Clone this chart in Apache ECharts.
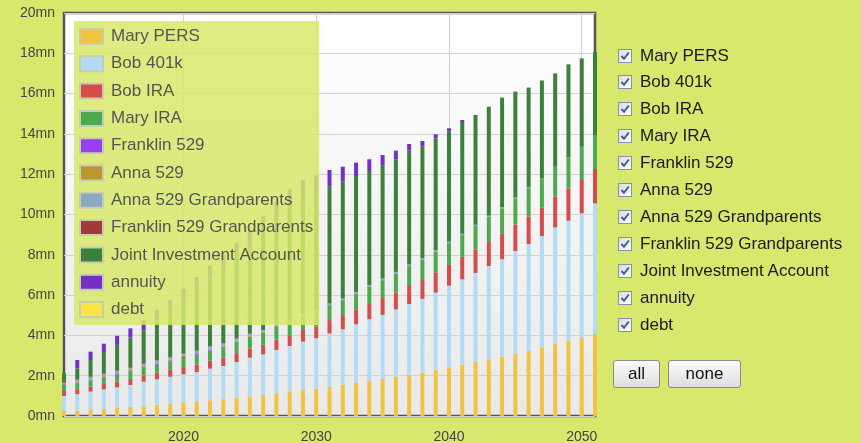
<!DOCTYPE html>
<html>
<head>
<meta charset="utf-8">
<script src="https://cdn.jsdelivr.net/npm/echarts@6/dist/echarts.min.js"></script>
<style>
  html, body { margin: 0; padding: 0; background: #d7e86c; width: 861px; height: 443px; overflow: hidden; font-family: "Liberation Sans", Arial, sans-serif; }
  #chart { position: absolute; left: 0; top: 0; width: 861px; height: 443px; }
  .row { position: absolute; left: 618px; height: 20px; line-height: 20px; font-size: 17px; color: #1a1a1a; white-space: nowrap; }
  .cb { position: absolute; left: 0; top: 3px; width: 12px; height: 12px; border: 1px solid #8593a3; background: linear-gradient(135deg, #d9dde2, #ffffff); }
  .cb svg { position: absolute; left: 0; top: 0; }
  .lbl { position: absolute; left: 22px; top: 0; }
  .btn { position: absolute; top: 360px; height: 26px; line-height: 26px; text-align: center; font-size: 17px; color: #111; border: 1px solid #8a8a8a; border-radius: 3px; background: linear-gradient(#fbfbfb, #dedede); }
</style>
</head>
<body>
<div id="chart"></div>
<div id="panel"></div>
<script>
const years = ["2011","2012","2013","2014","2015","2016","2017","2018","2019","2020","2021","2022","2023","2024","2025","2026","2027","2028","2029","2030","2031","2032","2033","2034","2035","2036","2037","2038","2039","2040","2041","2042","2043","2044","2045","2046","2047","2048","2049","2050","2051"];
const xTickYears = ["2020", "2030", "2040", "2050"];
const seriesNames = ["Mary PERS","Bob 401k","Bob IRA","Mary IRA","Franklin 529","Anna 529","Anna 529 Grandparents","Franklin 529 Grandparents","Joint Investment Account","annuity","debt"];

const maryPers = [0.21,0.26,0.33,0.35,0.41,0.45,0.48,0.55,0.61,0.68, 0.73,0.78,0.84,0.91,0.98,1.04,1.13,1.21,1.29,1.36, 1.45,1.56,1.65,1.74,1.85,1.95,2.05,2.15,2.28,2.41, 2.55,2.68,2.81,2.94,3.08,3.24,3.41,3.57,3.74,3.87,4.05];
const bob401k = [0.79,0.82,0.88,0.97,1.01,1.09,1.22,1.27,1.34,1.39, 1.45,1.57,1.64,1.77,1.91,2.02,2.15,2.26,2.40,2.50, 2.65,2.74,2.90,3.06,3.16,3.34,3.51,3.66,3.84,4.06, 4.23,4.42,4.63,4.84,5.11,5.30,5.52,5.79,5.95,6.19,6.51];
const bobIra = [0.25,0.25,0.26,0.27,0.28,0.30,0.31,0.33,0.34,0.36, 0.38,0.40,0.42,0.44,0.46,0.48,0.51,0.54,0.58,0.58, 0.66,0.71,0.74,0.76,0.84,0.84,0.94,0.94,1.01,1.03, 1.12,1.17,1.19,1.26,1.32,1.36,1.42,1.52,1.60,1.65,1.70];
const maryIra = [0.25,0.30,0.30,0.32,0.34,0.36,0.38,0.40,0.42,0.45, 0.47,0.50,0.52,0.55,0.58,0.60,0.63,0.66,0.69,0.71, 0.74,0.74,0.79,0.86,0.89,0.94,0.94,0.99,1.03,1.08, 1.08,1.16,1.26,1.27,1.29,1.41,1.44,1.49,1.54,1.65,1.69];
const franklin529 = [0.03,0.03,0.03,0.04,0.04,0.04,0.04,0.05,0.05,0.05, 0.04,0.04,0.03,0.02,0,0,0,0,0,0, 0,0,0,0,0,0,0,0,0,0, 0,0,0,0,0,0,0,0,0,0,0];
const anna529 = [0.03,0.03,0.03,0.03,0.04,0.04,0.04,0.04,0.04,0.05, 0.05,0.05,0.05,0.05,0.05,0.04,0.04,0.03,0.03,0.02, 0,0,0,0,0,0,0,0,0,0, 0,0,0,0,0,0,0,0,0,0,0];
const anna529Gp = [0.10,0.10,0.10,0.10,0.10,0.10,0.11,0.11,0.11,0.11, 0.11,0.11,0.10,0.10,0.10,0.09,0.09,0.09,0.08,0.08, 0.08,0.08,0.08,0.08,0.08,0.08,0.08,0.08,0.07,0.07, 0.06,0.06,0.05,0.05,0.04,0.04,0,0,0,0,0];
const franklin529Gp = [0.03,0.03,0.03,0.03,0.03,0.03,0.02,0.02,0.02,0.02, 0.02,0.01,0,0,0,0,0,0,0,0, 0,0,0,0,0,0,0,0,0,0, 0,0,0,0,0,0,0,0,0,0,0];
const jointInvestment = [0.43,0.55,0.82,1.06,1.28,1.49,1.66,1.98,2.29,2.64, 3.05,3.37,3.74,4.10,4.43,4.92,5.33,5.68,5.83,5.88, 5.80,5.80,5.75,5.66,5.60,5.59,5.65,5.55,5.54,5.48, 5.55,5.45,5.41,5.44,5.26,4.95,4.86,4.63,4.62,4.39,4.11];
const annuity = [0,0.41,0.41,0.42,0.45,0.45,0.50,0.52,0.55,0.57, 0.60,0.62,0.65,0.67,0.70,0.72,0.75,0.77,0.80,0.82, 0.83,0.74,0.66,0.58,0.53,0.43,0.33,0.28,0.21,0.15, 0.10,0,0,0,0,0,0,0,0,0,0];
const debt = [0,0,0,0,0,0,0,0,0,0, 0,0,0,0,0,0,0,0,0,0, 0,0,0,0,0,0,0,0,0,0, 0,0,0,0,0,0,0,0,0,0,0];

const seriesValues = [maryPers, bob401k, bobIra, maryIra, franklin529, anna529, anna529Gp, franklin529Gp, jointInvestment, annuity, debt];
const colors = ["#f1c341","#b3dbf6","#d44c4c","#4ca94c","#9a3ff0","#bb962f","#8aa7c4","#a33a3a","#3b803b","#7230c4","#fde34a"];

const showYear = (idx, val) => xTickYears.indexOf(String(val)) >= 0;
const showYearIdx = (idx) => xTickYears.indexOf(years[idx]) >= 0;

const chart = echarts.init(document.getElementById('chart'), null, {renderer: 'canvas'});
const option = {
  animation: false,
  backgroundColor: 'transparent',
  color: colors,
  grid: {
    left: 64, top: 13, right: 266, bottom: 27,
    outerBoundsMode: 'none',
    containLabel: false,
    show: true,
    borderColor: '#555555', borderWidth: 2.5,
    backgroundColor: new echarts.graphic.LinearGradient(0, 0, 0, 1, [
      {offset: 0, color: '#ffffff'}, {offset: 1, color: '#e9e9e9'}
    ])
  },
  legend: {
    orient: 'vertical',
    left: 74, top: 21,
    padding: [7, 6, 7, 5],
    backgroundColor: 'rgba(215,232,108,0.86)',
    itemWidth: 23, itemHeight: 15, itemGap: 10.3,
    icon: 'rect',
    itemStyle: { borderColor: '#c9cdb0', borderWidth: 2 },
    textStyle: { fontSize: 17, lineHeight: 17, color: '#555555', fontFamily: 'Liberation Sans, Arial, sans-serif', padding: [0,0,0,3] },
    selectedMode: false,
    data: seriesNames
  },
  xAxis: {
    type: 'category',
    data: years,
    boundaryGap: false,
    axisLine: { show: false },
    axisTick: { show: false, interval: showYearIdx },
    axisLabel: { interval: showYear, fontSize: 14, color: '#444444', margin: 14, fontFamily: 'Liberation Sans, Arial, sans-serif' },
    splitLine: { show: true, interval: showYearIdx, lineStyle: { color: '#d2d2d2', width: 1 } }
  },
  yAxis: {
    type: 'value',
    min: 0, max: 20, interval: 2,
    axisLine: { show: false },
    axisTick: { show: false },
    axisLabel: { formatter: v => v + 'mn', fontSize: 14, color: '#444444', margin: 9, fontFamily: 'Liberation Sans, Arial, sans-serif' },
    splitLine: { show: true, lineStyle: { color: '#d2d2d2', width: 1 } }
  },
  series: seriesNames.map((name, i) => ({
    name: name,
    type: 'bar',
    stack: 'total',
    barWidth: 4,
    itemStyle: { color: colors[i] },
    data: seriesValues[i]
  }))
};
chart.setOption(option);

// Right-hand checkbox list and buttons
const panel = document.getElementById('panel');
const checkSvg = '<svg width="12" height="12" viewBox="0 0 12 12"><polyline points="2.5,6 5,8.8 9.8,2.5" fill="none" stroke="#3d5f94" stroke-width="2"/></svg>';
seriesNames.forEach((name, i) => {
  const row = document.createElement('div');
  row.className = 'row';
  row.style.top = (45.5 + i * 26.9) + 'px';
  row.innerHTML = '<span class="cb">' + checkSvg + '</span><span class="lbl"></span>';
  row.querySelector('.lbl').textContent = name;
  panel.appendChild(row);
});
const btnAll = document.createElement('div');
btnAll.className = 'btn'; btnAll.textContent = 'all';
btnAll.style.left = '613px'; btnAll.style.width = '45px';
panel.appendChild(btnAll);
const btnNone = document.createElement('div');
btnNone.className = 'btn'; btnNone.textContent = 'none';
btnNone.style.left = '668px'; btnNone.style.width = '71px';
panel.appendChild(btnNone);
</script>
</body>
</html>
